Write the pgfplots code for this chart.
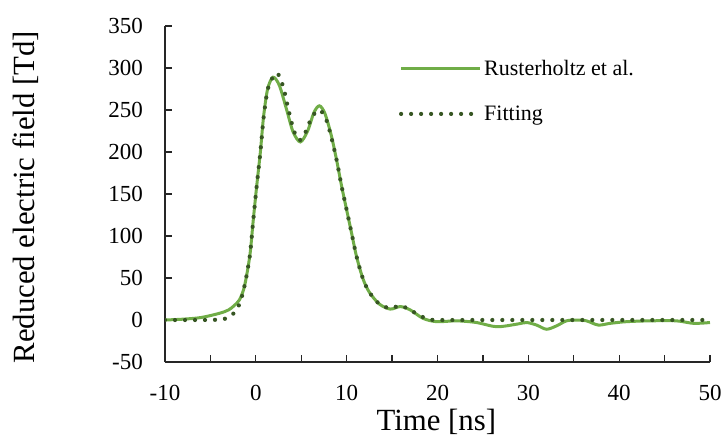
\documentclass[border=0pt]{standalone}
\usepackage{fontspec}
\setmainfont{Liberation Serif}
\usepackage{pgfplots}
\pgfplotsset{compat=1.18}
\definecolor{cMeas}{RGB}{112,173,71}
\definecolor{cFit}{RGB}{55,86,35}

\begin{document}
\begin{tikzpicture}
\useasboundingbox (0,0) rectangle (723pt,437pt);
\begin{axis}[
    at={(165pt,75pt)}, anchor=south west,
    scale only axis,
    width=545pt, height=336pt,
    xmin=-10, xmax=50, ymin=-50, ymax=350,
    axis lines*=left,
    axis line style={line width=1.2pt, black!85},
    xtick={-10,0,...,50},
    minor xtick={-5,5,...,45},
    ytick={-50,0,...,350},
    tick align=inside,
    major tick length=7pt, minor tick length=7pt,
    every tick/.style={line width=1.2pt, black!85},
    /pgf/number format/assume math mode=true,
    ticklabel style={font=\fontsize{23}{23}\selectfont, inner sep=0pt},
    xticklabel style={anchor=north, yshift=-23pt},
    yticklabel style={anchor=east, xshift=-22pt},
    xlabel={Time [ns]},
    ylabel={Reduced electric field [Td]},
    label style={font=\fontsize{30.8}{30.8}\selectfont, inner sep=0pt},
    xlabel style={at={(axis description cs:0.4978,-0.2024)}, anchor=base},
    ylabel style={at={(axis description cs:-0.2398,0.4905)}, anchor=base},
    legend style={draw=none, fill=none, inner sep=0pt,
        at={(0.429,0.905)}, anchor=north west,
        font=\fontsize{22}{22}\selectfont, row sep=25pt},
    legend cell align=left,
    legend image code/.code={\draw[#1] (0pt,0pt) -- (79pt,0pt);},
]
\addplot[smooth, color=cMeas, line width=3pt] coordinates {
(-10,0) (-8,1) (-6,3) (-4,8) (-3,12) (-2.4,17) (-1.8,24) (-1.3,38)
(-0.9,60) (-0.6,82) (-0.3,117) (0.1,160) (0.5,200) (0.85,242) (1.3,275)
(1.9,289) (2.6,279) (3.4,250) (4.1,224) (4.9,212) (5.7,225) (6.4,247)
(7.0,255) (7.6,246) (8.3,220) (8.9,190) (9.45,159) (10.0,131) (10.55,103)
(11.1,75) (11.8,49) (12.5,33) (13.6,19) (14.8,13) (15.9,16) (17.0,12)
(18.4,2) (19.9,-2) (22.1,-1) (24.3,-3) (26.5,-8) (28.7,-5) (29.8,-3)
(30.9,-6) (32.0,-11) (33.1,-7) (34.2,-1) (35.3,0) (36.4,-1) (37.7,-6)
(39.0,-4) (40.8,-2) (43.4,-1) (46.3,-1) (48.2,-4) (50,-3)
};
\addlegendentry{Rusterholtz et al.}
\addplot[smooth, color=cFit, line width=4.2pt, line cap=round,
    dash pattern=on 0pt off 10pt] coordinates {
(-10,0) (-6,0) (-4,0.5) (-3,3) (-2.2,11) (-1.7,22) (-1.3,38) (-0.9,60)
(-0.6,82) (-0.3,117) (0.1,160) (0.5,200) (0.9,245) (1.4,278) (2.3,294)
(3.0,278) (3.6,250) (4.2,225) (4.8,214) (5.4,222) (6.2,242) (7.0,250)
(7.7,240) (8.3,218) (8.9,190) (9.45,159) (10.0,131) (10.55,103) (11.1,75)
(11.8,49) (12.5,33) (13.6,19) (14.8,14) (15.9,17) (17.0,12) (17.9,6)
(19.0,1) (20.0,0) (25,0) (30,0) (35,0) (40,0) (45,0) (50,0)
};
\addlegendentry{Fitting}
\end{axis}
\end{tikzpicture}
\end{document}
